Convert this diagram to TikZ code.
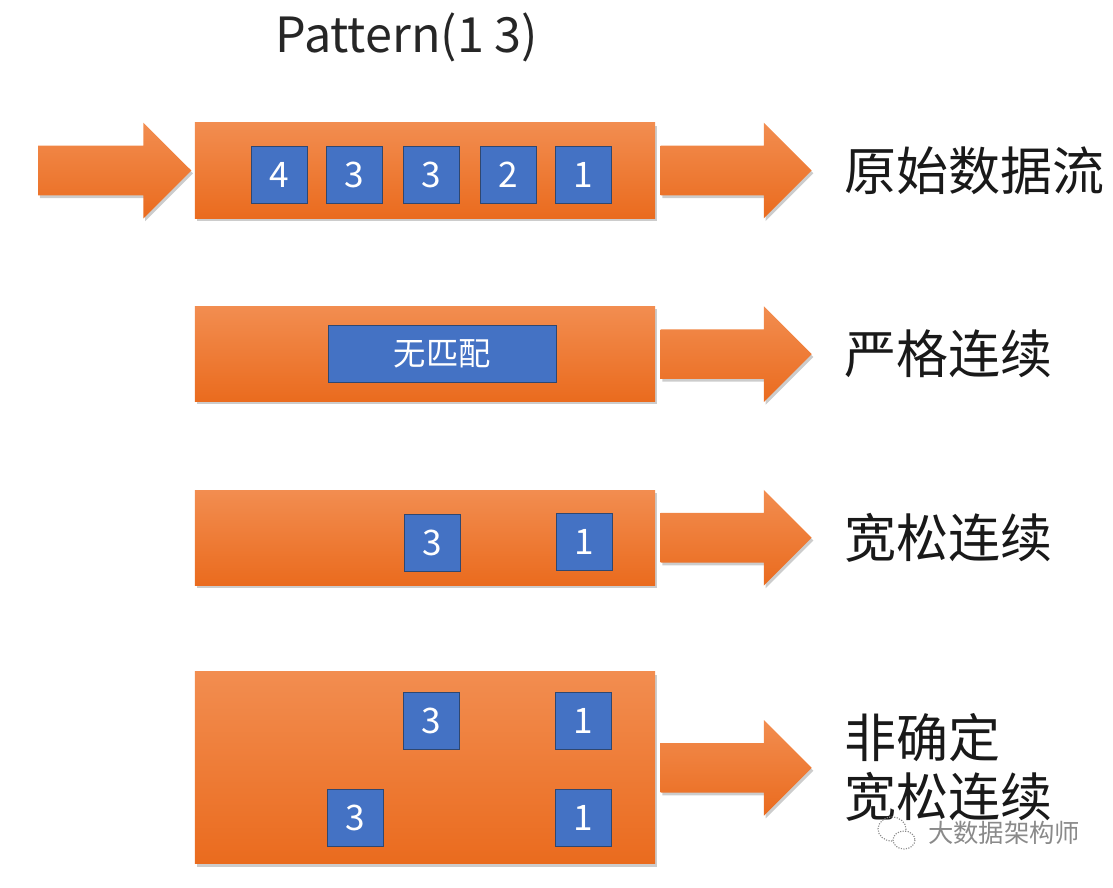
\documentclass[tikz,border=0pt]{standalone}
\usepackage{fontspec}
\setmainfont{Noto Sans CJK SC}
\usetikzlibrary{shapes.arrows,shadows,positioning}

\definecolor{bartop}{HTML}{F28D50}
\definecolor{barbottom}{HTML}{EA6B1E}
\definecolor{cellblue}{HTML}{4472C4}
\definecolor{celledge}{HTML}{2F4770}
\definecolor{markgray}{HTML}{8A8A8A}

\tikzset{
  stream/.style={rectangle, top color=bartop, bottom color=barbottom, minimum width=11.5cm, minimum height=2.375cm, inner sep=0pt,
    drop shadow={shadow xshift=1.2pt, shadow yshift=-2pt, opacity=0.2, fill=black}},
  flow/.style={single arrow, top color=bartop, bottom color=barbottom, minimum height=3.775cm, inner xsep=0pt, inner ysep=0.6125cm,
    single arrow head extend=0.575cm, single arrow head indent=0pt,
    drop shadow={shadow xshift=1.2pt, shadow yshift=-2pt, opacity=0.2, fill=black}},
  cell/.style={rectangle, fill=cellblue, draw=celledge, line width=0.7pt, minimum width=1.4cm, minimum height=1.425cm, inner sep=0pt,
    text=white, font=\fontsize{25}{25}\selectfont},
  caption/.style={inner sep=0pt, anchor=west, align=left, font=\fontsize{37}{42}\selectfont, text=black!90},
}

\begin{document}
\begin{tikzpicture}[x=0.025cm, y=-0.025cm]
\useasboundingbox (0,0) rectangle (1113,888);
\node (title) [font=\fontsize{34.5}{34.5}\selectfont, text=black!85] at (407,37) {Pattern(1 3)};

% four streams
\node (rawbar) [stream] at (425,170.5) {};
\node (strictbar) [stream, below=2.2cm of rawbar] {};
\node (relaxbar) [stream, below=2.2cm of strictbar] {};
\node (nondetbar) [stream, minimum height=4.8cm, below=2.15cm of relaxbar] {};

% arrows
\node (inflow) [flow, minimum height=3.825cm, left=0.075cm of rawbar] {};
\node (rawflow) [flow, right=0.125cm of rawbar] {};
\node (strictflow) [flow, right=0.125cm of strictbar] {};
\node (relaxflow) [flow, right=0.125cm of relaxbar] {};
\node (nondetflow) [flow, right=0.125cm of nondetbar] {};

% events
\node (raw4) [cell] at (279.5,175) {4};
\node (raw3a) [cell] at (354.5,175) {3};
\node (raw3b) [cell] at (431.5,175) {3};
\node (raw2) [cell] at (508.5,175) {2};
\node (raw1) [cell] at (583.5,175) {1};
\node (nomatch) [cell, minimum width=5.675cm, font=\fontsize{23}{23}\selectfont] at (442.5,353.5) {无匹配};
\node (relax3) [cell] at (432,543) {3};
\node (relax1) [cell] at (584,542) {1};
\node (nondet3a) [cell] at (431.5,721) {3};
\node (nondet1a) [cell] at (583.5,721) {1};
\node (nondet3b) [cell] at (355,818) {3};
\node (nondet1b) [cell] at (583.5,818) {1};

% captions
\node (rawtext) [caption, right=0.8cm of rawflow.tip] {原始数据流};
\node (stricttext) [caption, right=0.8cm of strictflow.tip] {严格连续};
\node (relaxtext) [caption, right=0.8cm of relaxflow.tip] {宽松连续};
\node (nondettext) [caption, right=0.8cm of nondetflow.tip] {非确定\\宽松连续};

% watermark
\draw[markgray, densely dotted, line width=0.8pt] (892,829) ellipse [x radius=14, y radius=12];
\draw[markgray, densely dotted, line width=0.8pt, fill=white] (904,840) ellipse [x radius=11, y radius=9];
\node (mark) [inner sep=0pt, anchor=west, text=markgray, font=\fontsize{18}{18}\selectfont] at (928,833) {大数据架构师};
\end{tikzpicture}
\end{document}
